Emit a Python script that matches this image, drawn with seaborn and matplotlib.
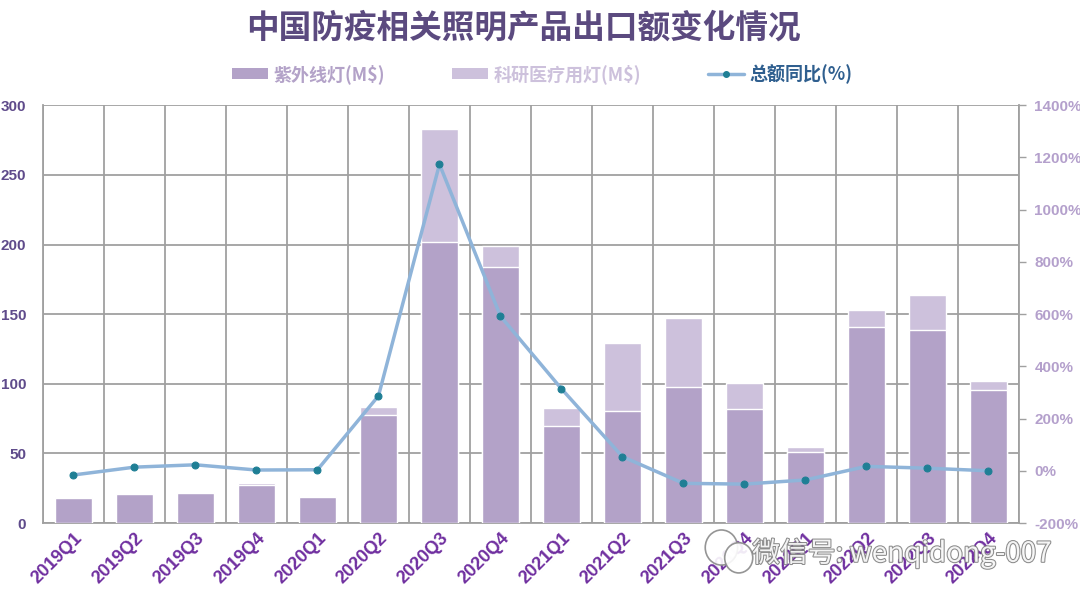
import numpy as np
import matplotlib
matplotlib.use("Agg")
from matplotlib import pyplot as plt
from matplotlib.patches import Patch, Ellipse
from matplotlib.lines import Line2D
import matplotlib.patheffects as pe
import seaborn as sns

quarters = ["2019Q1", "2019Q2", "2019Q3", "2019Q4",
            "2020Q1", "2020Q2", "2020Q3", "2020Q4",
            "2021Q1", "2021Q2", "2021Q3", "2021Q4",
            "2022Q1", "2022Q2", "2022Q3", "2022Q4"]
uv_lamp = [18, 20.5, 21.5, 27, 18.7, 77.5, 201.7, 184, 70, 80.4, 98, 82, 51.2, 141, 138.3, 95.5]
lab_lamp = [0.5, 0.5, 0.5, 1.7, 0.9, 5.5, 81.6, 14.6, 12.3, 49, 49.4, 18.3, 3.1, 11.9, 25.4, 6.7]
yoy_pct = [-16, 14, 23, 3, 4, 287, 1174, 592, 314, 54, -48, -51, -35, 17, 10, 0]
left_ticks = [0, 50, 100, 150, 200, 250, 300]
right_ticks = [-200, 0, 200, 400, 600, 800, 1000, 1200, 1400]

total = [a + b for a, b in zip(uv_lamp, lab_lamp)]

c_uv = "#b3a2c8"
c_lab = "#cdc1dc"
c_line = "#8fb4d9"
c_mark = "#1f7f95"
c_grid = "#a0a0a0"
latin = ["Liberation Sans", "DejaVu Sans"]

sns.set_theme(style="white")
plt.rcParams["font.family"] = ["Noto Sans CJK SC", "DejaVu Sans"]

fig = plt.figure(figsize=(10.8, 6.05), dpi=100)
ax = fig.add_axes([0.0398, 0.1355, 0.9037, 0.6905])

sns.barplot(x=quarters, y=total, color=c_lab, saturation=1, width=0.62, ax=ax, zorder=2)
sns.barplot(x=quarters, y=uv_lamp, color=c_uv, saturation=1, width=0.62, ax=ax, zorder=3)

n = len(quarters)
ax.set_ylim(0, 300)
ax.set_xlim(-0.5, n - 0.5)
ax.set_yticks(left_ticks)
ax.set_yticklabels([str(t) for t in left_ticks], fontweight="bold", family=latin,
                   fontsize=11, color="#5f4b8b")
ax.set_xticks(np.arange(n))
ax.set_xticklabels(quarters, rotation=45, ha="right", rotation_mode="anchor",
                   fontweight="bold", family=latin, fontsize=13, color="#7030a0")
ax.set_xticks(np.arange(-0.5, n, 1.0), minor=True)
ax.grid(True, axis="y", which="major", color=c_grid, linewidth=1.3, zorder=0)
ax.grid(True, axis="x", which="minor", color=c_grid, linewidth=1.3, zorder=0)
ax.grid(False, axis="x", which="major")
ax.set_axisbelow(True)
for s in ["top", "right"]:
    ax.spines[s].set_visible(False)
for s in ["left", "bottom"]:
    ax.spines[s].set_color(c_grid)
    ax.spines[s].set_linewidth(1.3)
ax.tick_params(axis="y", length=0, pad=12)
ax.tick_params(axis="x", which="both", length=0, pad=5)
ax.set_xlabel("")
ax.set_ylabel("")

ax2 = ax.twinx()
sns.lineplot(x=np.arange(n), y=yoy_pct, ax=ax2, color=c_line, linewidth=2.5,
             marker="o", markersize=5, markerfacecolor=c_mark, markeredgecolor=c_mark, zorder=5)
ax2.set_ylim(-200, 1400)
ax2.set_yticks(right_ticks)
ax2.set_yticklabels([f"{t}%" for t in right_ticks], fontweight="bold", family=latin,
                    fontsize=11, color="#b4a0cc")
ax2.grid(False)
for s in ["top", "left", "bottom"]:
    ax2.spines[s].set_visible(False)
ax2.spines["right"].set_color(c_grid)
ax2.spines["right"].set_linewidth(1.3)
ax2.tick_params(axis="y", length=5, width=1, color=c_grid, pad=6)
ax2.set_ylabel("")

fig.text(0.485, 0.953, "中国防疫相关照明产品出口额变化情况", ha="center", va="center",
         fontsize=23.5, fontweight="bold", color="#5b4a7f")

handles = [Patch(facecolor=c_uv, edgecolor="none"),
           Patch(facecolor=c_lab, edgecolor="none"),
           Line2D([0], [0], color=c_line, linewidth=2.5, marker="o", markersize=4,
                  markerfacecolor=c_mark, markeredgecolor=c_mark)]
labels = ["紫外线灯(M$)", "科研医疗用灯(M$)", "总额同比(%)"]
fig.legend(handles, labels, loc="center", bbox_to_anchor=(0.502, 0.878), ncol=3,
           frameon=False, columnspacing=3.7, handlelength=2.0,
           handleheight=0.6, handletextpad=0.3,
           labelcolor=[c_uv, c_lab, "#2f5f8f"],
           prop={"weight": "bold", "size": 13})

# watermark: small chat-bubble icon plus account text
for cx, cy, w, h in [(0.668, 0.095, 0.030, 0.058), (0.684, 0.078, 0.026, 0.050)]:
    fig.patches.append(Ellipse((cx, cy), w, h, transform=fig.transFigure,
                               facecolor="white", edgecolor="#8a8a8a", linewidth=1.2,
                               alpha=0.9, zorder=10))
fig.text(0.835, 0.085, "微信号: wenqidong-007", ha="center", va="center",
         fontsize=20, color="white", alpha=0.9, zorder=11,
         path_effects=[pe.withStroke(linewidth=1.5, foreground="#7f7f7f")])

plt.savefig("out.png", dpi=100)
plt.close(fig)
